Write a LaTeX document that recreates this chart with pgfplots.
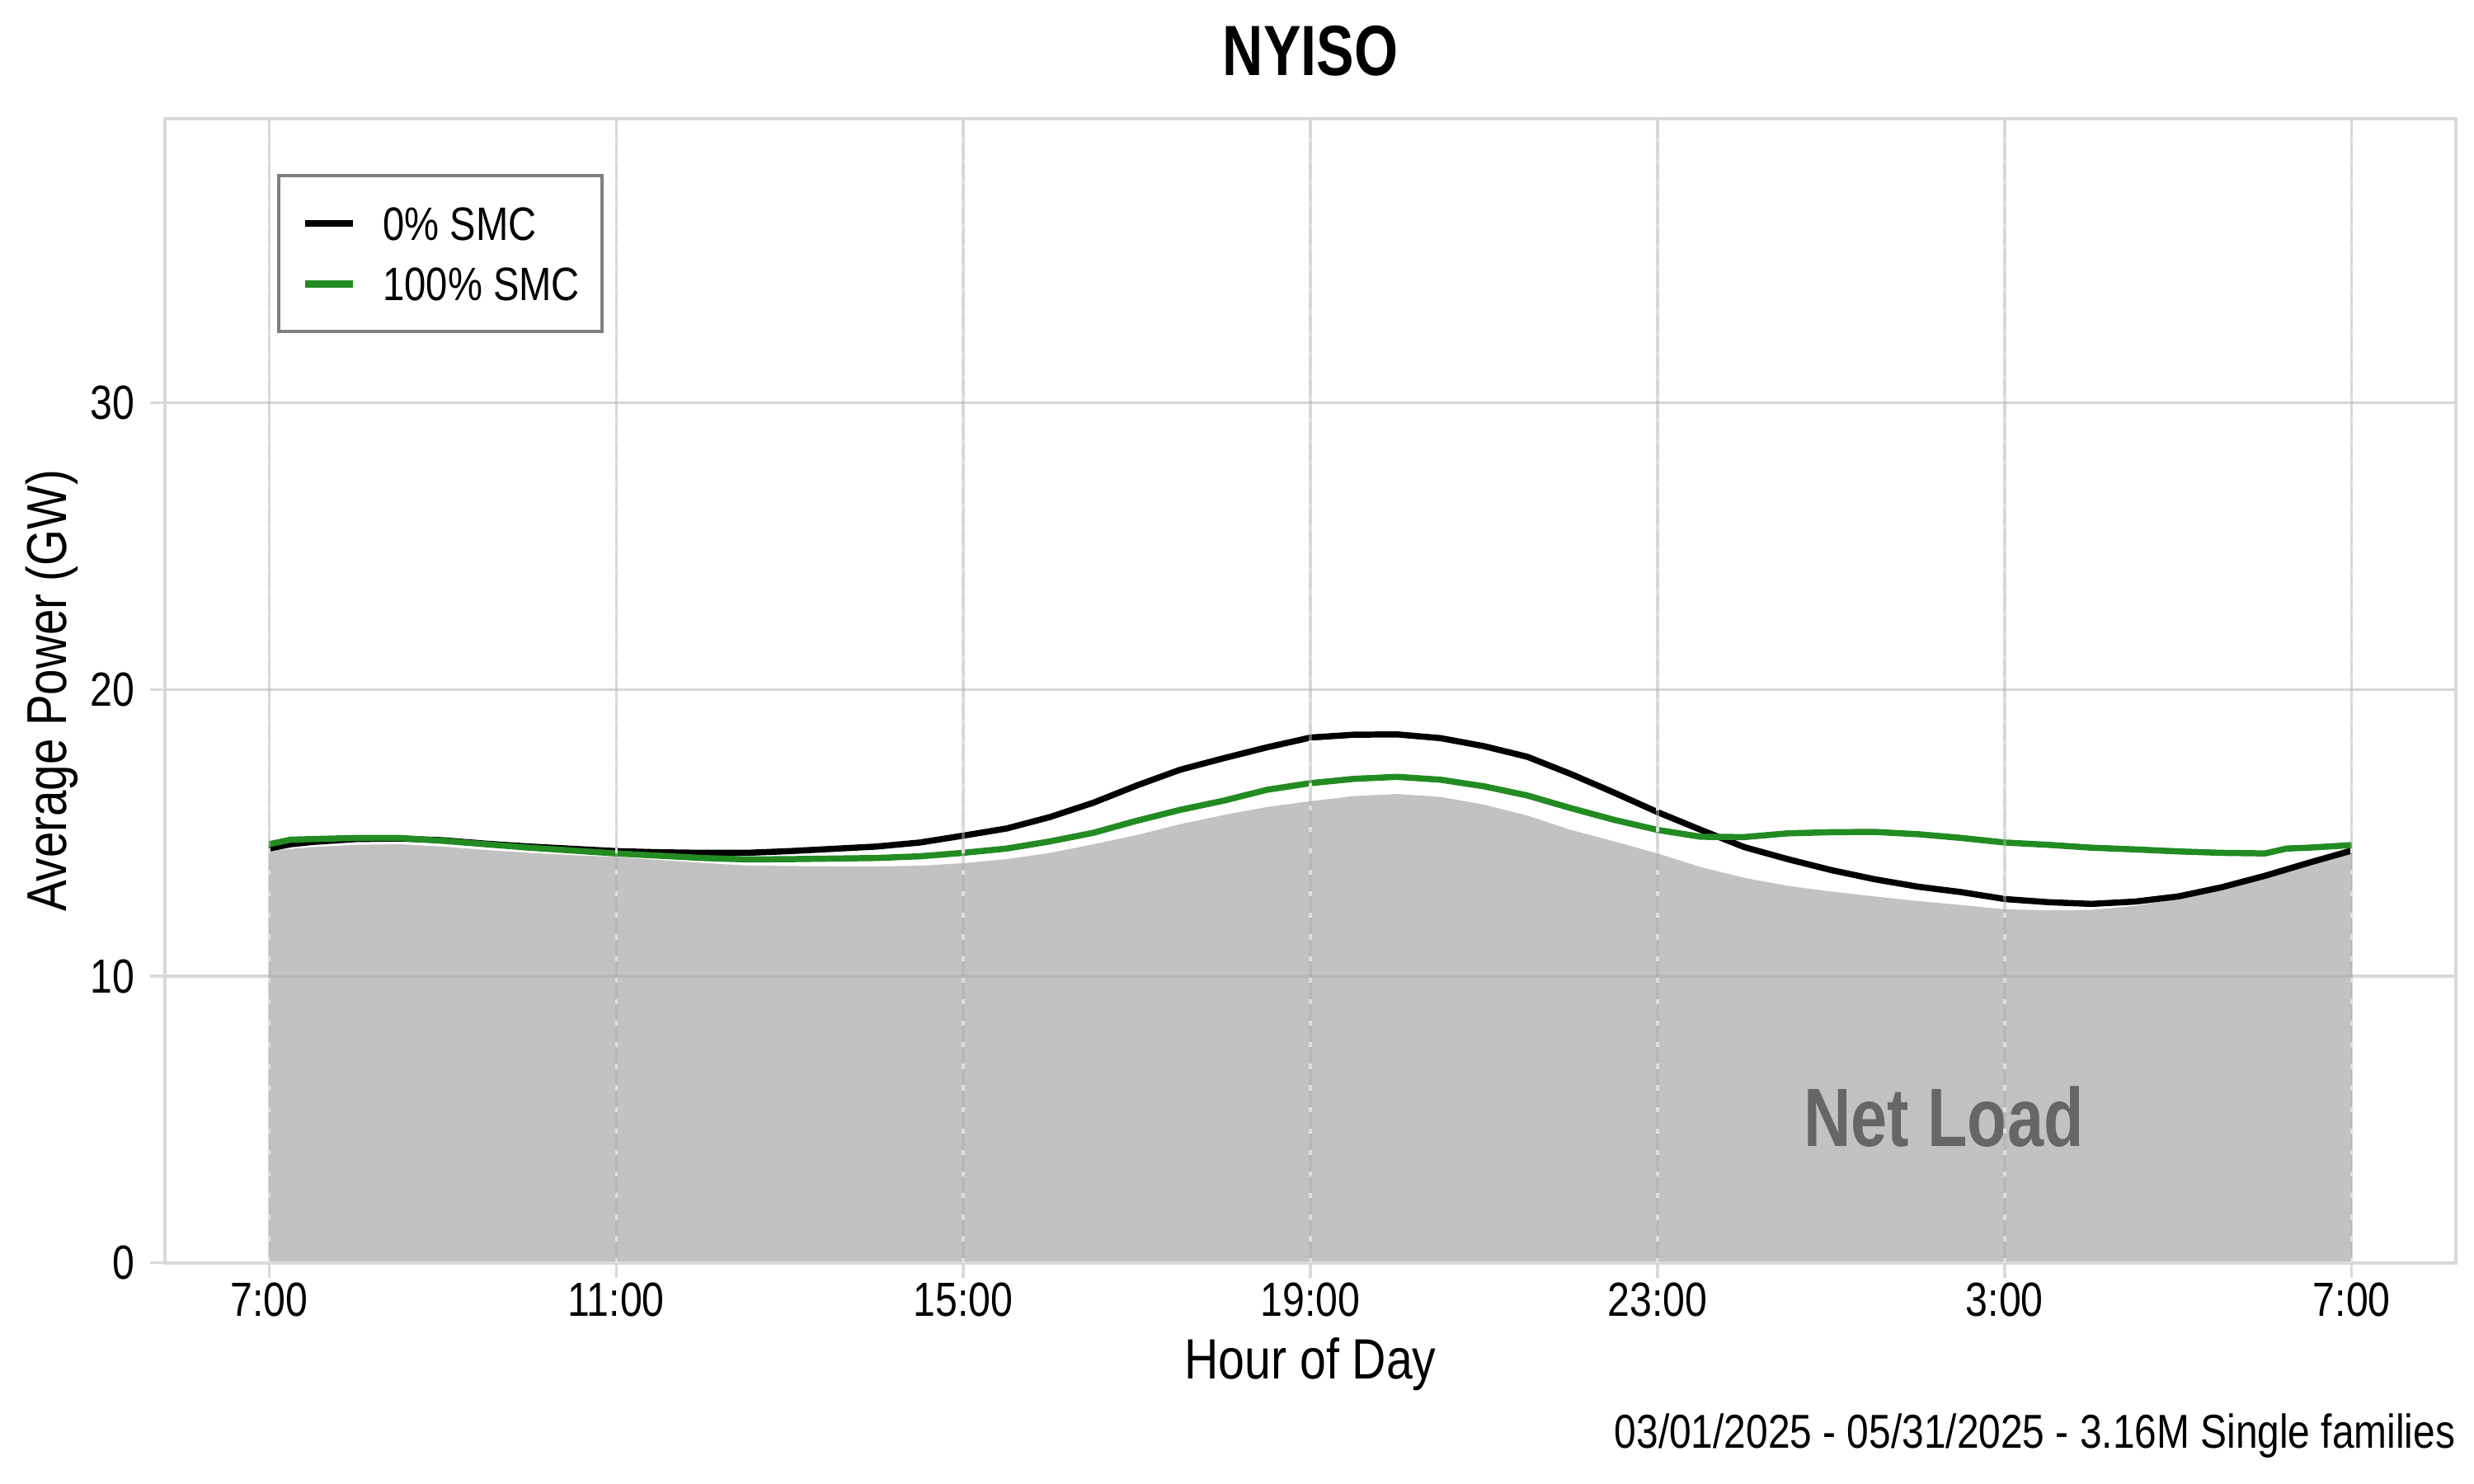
\documentclass[border=0pt]{standalone}
\usepackage{fontspec}
\setmainfont{Liberation Sans}[FakeStretch=0.83]
\newfontfamily\bfcond{Liberation Sans}[FakeStretch=0.79]
\usepackage{pgfplots}
\pgfplotsset{compat=1.18}
\usepackage{pgfplotstable}
\definecolor{gridc}{HTML}{D9D9D9}
\definecolor{netfill}{HTML}{C2C2C2}
\definecolor{smcgreen}{HTML}{228B22}
\definecolor{netlabel}{HTML}{666666}

\pgfplotstableread{
h   v
0   14.45
0.25 14.6
0.5 14.68
1   14.78
1.5 14.8
2   14.74
2.5 14.62
3   14.52
3.5 14.44
4   14.36
4.5 14.32
5   14.3
5.5 14.3
6   14.36
6.5 14.44
7   14.52
7.5 14.66
8   14.9
8.5 15.15
9   15.55
9.5 16.05
10  16.65
10.5 17.2
11  17.6
11.5 17.98
12  18.32
12.5 18.42
13  18.43
13.5 18.3
14  18.02
14.5 17.65
15  17.05
15.5 16.4
16  15.72
16.5 15.1
17  14.5
17.5 14.08
18  13.7
18.5 13.38
19  13.12
19.5 12.93
20  12.69
20.5 12.58
21  12.52
21.5 12.6
22  12.78
22.5 13.1
23  13.5
23.5 13.95
24  14.38
}\smczero

\pgfplotstableread{
h   v
0   14.6
0.25 14.76
0.5 14.78
1   14.82
1.5 14.82
2   14.72
2.5 14.6
3   14.48
3.5 14.38
4   14.28
4.5 14.2
5   14.12
5.5 14.07
6   14.08
6.5 14.1
7   14.12
7.5 14.18
8   14.3
8.5 14.45
9   14.7
9.5 15.0
10  15.42
10.5 15.8
11  16.12
11.5 16.5
12  16.73
12.5 16.88
13  16.95
13.5 16.85
14  16.62
14.5 16.3
15  15.86
15.5 15.45
16  15.1
16.5 14.86
17  14.85
17.5 14.98
18  15.02
18.5 15.03
19  14.95
19.5 14.82
20  14.66
20.5 14.58
21  14.48
21.5 14.42
22  14.35
22.5 14.3
23  14.28
23.25 14.45
23.5 14.48
24  14.57
}\smcfull

\pgfplotstableread{
h   v
0   14.37
0.5 14.5
1   14.58
1.5 14.6
2   14.52
2.5 14.4
3   14.3
3.5 14.22
4   14.16
4.5 14.05
5   13.95
5.5 13.86
6   13.84
6.5 13.83
7   13.83
7.5 13.85
8   13.94
8.5 14.08
9   14.3
9.5 14.6
10  14.92
10.5 15.3
11  15.62
11.5 15.9
12  16.1
12.5 16.28
13  16.35
13.5 16.25
14  15.98
14.5 15.6
15  15.1
15.5 14.7
16  14.28
16.5 13.8
17  13.43
17.5 13.15
18  12.95
18.5 12.78
19  12.62
19.5 12.48
20  12.33
20.5 12.3
21  12.31
21.5 12.45
22  12.7
22.5 13.1
23  13.6
23.5 14.0
24  14.38
}\netload

\begin{document}
\begin{tikzpicture}
\begin{axis}[
  set layers, axis on top,
  scale only axis,
  width=669.4pt, height=334.4pt,
  xmin=-1.2, xmax=25.2,
  ymin=0, ymax=39.9,
  clip=false,
  xtick={0,4,8,12,16,20,24},
  xticklabels={7:00,11:00,15:00,19:00,23:00,3:00,7:00},
  ytick={0,10,20,30},
  yticklabels={0,10,20,30},
  xtick pos=bottom, ytick pos=left,
  tick align=outside,
  major tick length=4.4pt,
  major tick style={draw=gridc, line width=0.8pt},
  axis line style={draw=gridc, line width=1pt},
  grid=major,
  grid style={draw=black!31, opacity=0.5, line width=0.8pt},
  ticklabel style={font=\fontsize{14}{16}\selectfont, inner sep=0pt},
  xticklabel style={anchor=north, yshift=-1.1pt},
  yticklabel style={anchor=east, xshift=-4.3pt},
  legend style={at={(0.049,0.9518)}, anchor=north west, draw=gray, line width=1pt,
    fill=white, font=\fontsize{13.7}{16}\selectfont,
    inner xsep=6.5pt, inner ysep=9pt, row sep=7.6pt, column sep=7.8pt,
    nodes={inner sep=0pt, text height=10pt, text depth=0pt}},
  legend cell align=left,
  legend image code/.code={\draw[#1, line width=2.1pt] (0pt,0pt) -- (14pt,0pt);},
]
\addplot[draw=none, fill=netfill, forget plot] table[x=h,y=v] {\netload} \closedcycle;
\node[font=\bfcond\bfseries\fontsize{24.2}{28}\selectfont, text=netlabel, inner sep=0pt] at (axis cs:19.3,5.1) {Net Load};
\addplot[black, line width=1.8pt] table[x=h,y=v] {\smczero};
\addlegendentry{0\% SMC}
\addplot[smcgreen, line width=1.8pt] table[x=h,y=v] {\smcfull};
\addlegendentry{100\% SMC}
\pgfplotsinvokeforeach{0,4,8,12,16,20,24}{
  \addplot[on layer=axis foreground, forget plot, draw=white!87!black, line width=0.8pt, dash pattern=on 1.5pt off 4.8pt] coordinates {(#1,0) (#1,39.9)};
}
\node[font=\bfcond\bfseries\fontsize{20.8}{24}\selectfont, inner sep=0pt] at (rel axis cs:0.5,1.059) {NYISO};
\node[font=\fontsize{16.6}{19}\selectfont, inner sep=0pt, anchor=base] at (rel axis cs:0.5,-0.1016) {Hour of Day};
\node[font=\fontsize{16.4}{19}\selectfont, inner sep=0pt, anchor=base, rotate=90] at (rel axis cs:-0.0432,0.5) {Average Power (GW)};
\node[font=\fontsize{13.9}{16}\selectfont, inner sep=0pt, anchor=base east] at (rel axis cs:1,-0.1621) {03/01/2025 - 05/31/2025 - 3.16M Single families};
\coordinate (bbsw) at (rel axis cs:-0.0720,-0.1932);
\coordinate (bbne) at (rel axis cs:1.0079,1.1038);
\end{axis}
\pgfresetboundingbox
\path (bbsw) rectangle (bbne);
\end{tikzpicture}
\end{document}
